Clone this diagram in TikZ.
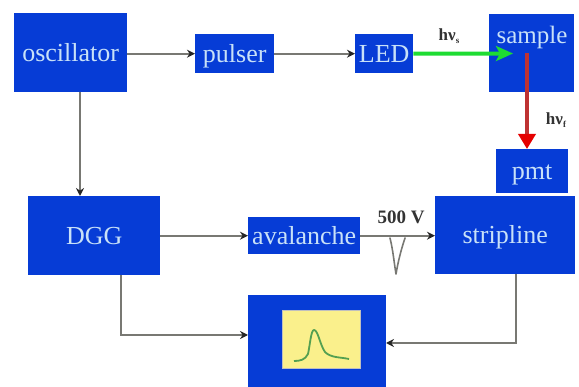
\documentclass[tikz,border=0pt]{standalone}
\usepackage{fontspec}
\setmainfont{Liberation Serif}
\usetikzlibrary{arrows.meta}
\definecolor{boxblue}{RGB}{6,60,214}
\definecolor{boxtext}{RGB}{200,225,248}
\definecolor{wire}{RGB}{120,120,115}
\definecolor{scopeyellow}{RGB}{250,240,140}
\definecolor{beamgreen}{RGB}{30,220,50}
\definecolor{beamred}{RGB}{190,50,50}
\tikzset{
  block/.style={fill=boxblue,text=boxtext,inner sep=0pt,text height=18.5pt,text depth=1.5pt,font=\fontsize{26}{26}\selectfont,anchor=north west},
  blocktext/.style={text=boxtext,inner sep=0pt,text height=18.5pt,text depth=1.5pt,font=\fontsize{25}{25}\selectfont},
  wireline/.style={draw=wire,line width=1.7pt,-{Stealth[length=8pt,width=8pt,black!85]}},
  smalllabel/.style={inner sep=0pt,text=black!80,font=\bfseries\fontsize{17}{17}\selectfont}
}
\newcommand{\blockat}[6]{\node[block,minimum width=#4pt,minimum height=#5pt] (#1) at (#2,#3) {#6};}
\begin{document}
\begin{tikzpicture}[x=1pt,y=-1pt]
\useasboundingbox (0,0) rectangle (579,387);
\blockat{osc}{14}{13}{113}{79}{oscillator}
\blockat{pulser}{195}{34}{79}{39}{pulser}
\blockat{led}{355}{34}{58}{39}{LED}
\blockat{sample}{489}{14}{85}{78}{}
\node[blocktext] (samplelabel) at (532,35) {sample};
\blockat{pmt}{496}{149}{72}{44}{pmt}
\blockat{strip}{435}{196}{140}{78}{stripline}
\blockat{dgg}{28}{196}{132}{79}{DGG}
\blockat{aval}{248}{217}{112}{37}{avalanche}
\blockat{scope}{248}{295}{138}{92}{}
\node[fill=scopeyellow,draw=black!25,line width=.5pt,minimum width=78pt,minimum height=58pt,inner sep=0pt,anchor=north west] (screen) at (282,310) {};
\coordinate (oscdown) at (80,92);
\coordinate (dggdown) at (121,275);
\coordinate (stripdown) at (516,274);
\coordinate (scopeleft) at (248,335);
\coordinate (scoperight) at (386,343);
\coordinate (beamred) at (527,53);
\draw[wireline] (pulser.west -| osc.east) -- (pulser.west);
\draw[wireline] (pulser.east) -- (led.west);
\draw[wireline] (oscdown) -- (oscdown |- dgg.north);
\draw[wireline] (dgg.east) -- (aval.west);
\draw[wireline] (aval.east) -- (aval.east -| strip.west);
\draw[wireline] (dggdown) |- (scopeleft);
\draw[wireline] (stripdown) |- (scoperight);
\draw[draw=beamgreen,line width=4pt,-{Stealth[length=17pt,width=15pt,inset=4pt,beamgreen]}] (led.east) -- (513,53.5);
\draw[draw=beamred,line width=3.5pt,-{Triangle[length=15pt,width=17pt,red!90!black]}] (beamred) -- (beamred |- pmt.north) ;
\node[smalllabel] (hvs) at (449,36) {hν\raisebox{-3pt}{\fontsize{9}{9}\selectfont s}};
\node[smalllabel] (hvf) at (556,120) {hν\raisebox{-3pt}{\fontsize{9}{9}\selectfont f}};
\node[smalllabel,font=\bfseries\fontsize{19}{19}\selectfont] (volt) at (401,217) {500 V};
\draw[wire,line width=1.6pt,line cap=round,line join=round]
  (390,238) .. controls (393,250) and (394,262) .. (396,274)
  .. controls (398,262) and (401,250) .. (405,238);
\draw[wire!70!green,line width=1.8pt,line join=round]
  (294,361) .. controls (300,361) and (305,360) .. (308,354)
  .. controls (310,345) and (311,330) .. (314,330)
  .. controls (318,330) and (320,345) .. (325,352)
  .. controls (331,358) and (340,357) .. (349,359);
\end{tikzpicture}
\end{document}
